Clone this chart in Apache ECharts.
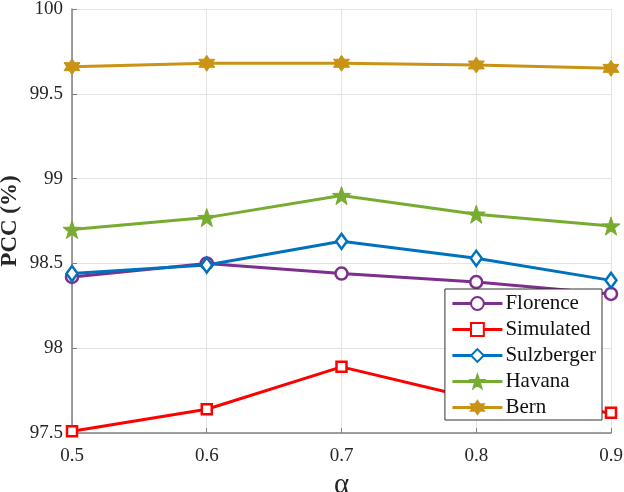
<!DOCTYPE html>
<html>
<head>
<meta charset="utf-8">
<script src="https://cdn.jsdelivr.net/npm/echarts@6/dist/echarts.min.js"></script>
<style>
  html, body { margin: 0; padding: 0; background: #ffffff; }
  #chart { width: 624px; height: 492px; }
</style>
</head>
<body>
<div id="chart"></div>
<script>
const alphas = [0.5, 0.6, 0.7, 0.8, 0.9];
const florence = [98.42, 98.50, 98.44, 98.39, 98.32];
const simulated = [97.51, 97.64, 97.89, 97.70, 97.62];
const sulzberger = [98.44, 98.49, 98.63, 98.53, 98.40];
const havana = [98.70, 98.77, 98.90, 98.79, 98.72];
const bern = [99.66, 99.68, 99.68, 99.67, 99.65];

const pentagram = 'path://M0,-10 L2.35,-3.24 L9.51,-3.09 L3.8,1.24 L5.88,8.09 L0,4 L-5.88,8.09 L-3.8,1.24 L-9.51,-3.09 L-2.35,-3.24 Z';
const hexagram = 'path://M0,-10 L2.89,-5 L8.66,-5 L5.77,0 L8.66,5 L2.89,5 L0,10 L-2.89,5 L-8.66,5 L-5.77,0 L-8.66,-5 L-2.89,-5 Z';

const serif = 'Liberation Serif';

function pairs(values) {
  return alphas.map((a, i) => [a, values[i]]);
}

function lineSeries(name, values, color, symbol, size, filled) {
  return {
    name: name,
    type: 'line',
    data: pairs(values),
    symbol: symbol,
    symbolSize: size,
    showAllSymbol: true,
    lineStyle: { color: color, width: 3 },
    itemStyle: {
      color: filled ? color : '#ffffff',
      borderColor: color,
      borderWidth: filled ? 1 : 2.5
    },
    z: 3
  };
}

const chart = echarts.init(document.getElementById('chart'));
chart.setOption({
  animation: false,
  backgroundColor: '#ffffff',
  grid: { left: 72, right: 13, top: 9, bottom: 59, containLabel: false, outerBoundsMode: 'none' },
  xAxis: {
    type: 'value',
    min: 0.5,
    max: 0.9,
    interval: 0.1,
    name: 'α',
    nameLocation: 'middle',
    nameGap: 37,
    nameTextStyle: { fontFamily: serif, fontSize: 29, color: '#222' },
    axisLine: { lineStyle: { color: '#808080', width: 1.5 } },
    axisTick: { inside: true, length: 5, lineStyle: { color: '#808080' } },
    axisLabel: {
      fontFamily: serif, fontSize: 19, color: '#262626', margin: 14,
      formatter: v => v.toFixed(1)
    },
    splitLine: { show: true, lineStyle: { color: '#e3e3e3', width: 1 } }
  },
  yAxis: {
    type: 'value',
    min: 97.5,
    max: 100,
    interval: 0.5,
    name: 'PCC (%)',
    nameLocation: 'middle',
    nameGap: 50,
    nameMoveOverlap: false,
    nameTextStyle: { fontFamily: serif, fontSize: 23, fontWeight: 'bold', color: '#262626' },
    axisLine: { show: true, lineStyle: { color: '#808080', width: 1.5 } },
    axisTick: { show: true, inside: true, length: 5, lineStyle: { color: '#808080' } },
    axisLabel: {
      fontFamily: serif, fontSize: 19, color: '#262626', margin: 9,
      formatter: v => String(Math.round(v * 10) / 10)
    },
    splitLine: { show: true, lineStyle: { color: '#e3e3e3', width: 1 } }
  },
  legend: {
    orient: 'vertical',
    right: 22,
    top: 289,
    backgroundColor: '#ffffff',
    borderColor: '#333333',
    borderWidth: 1,
    borderRadius: 0,
    padding: [4, 6, 2, 6],
    itemWidth: 50,
    itemHeight: 16,
    itemGap: 5,
    lineStyle: { width: 3 },
    textStyle: { fontFamily: serif, fontSize: 21, color: '#111', padding: [0, 0, 0, -2] },
    data: ['Florence', 'Simulated', 'Sulzberger', 'Havana', 'Bern']
  },
  series: [
    lineSeries('Florence', florence, '#7E2F8E', 'circle', 12, false),
    lineSeries('Simulated', simulated, '#FF0000', 'rect', 10, false),
    lineSeries('Sulzberger', sulzberger, '#0072BD', 'diamond', [11, 15], false),
    lineSeries('Havana', havana, '#77AC30', pentagram, 18, true),
    lineSeries('Bern', bern, '#C99316', hexagram, 16, true)
  ]
});
</script>
</body>
</html>
